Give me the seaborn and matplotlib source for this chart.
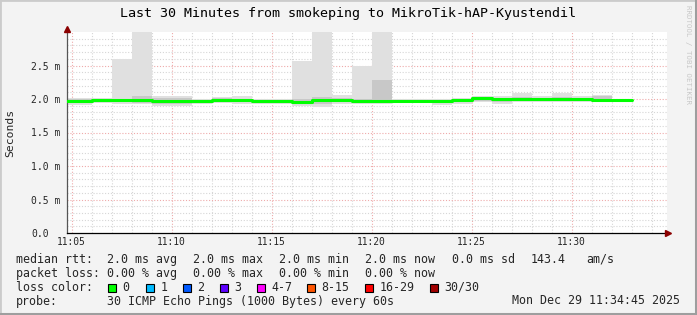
import matplotlib
matplotlib.use("Agg")
import matplotlib.pyplot as plt
from matplotlib.patches import Rectangle
from matplotlib.lines import Line2D
import seaborn as sns
import pandas as pd

# ---------------- data ----------------
times = ["11:04", "11:05", "11:06", "11:07", "11:08", "11:09", "11:10", "11:11",
         "11:12", "11:13", "11:14", "11:15", "11:16", "11:17", "11:18", "11:19",
         "11:20", "11:21", "11:22", "11:23", "11:24", "11:25", "11:26", "11:27",
         "11:28", "11:29", "11:30", "11:31", "11:32"]
end_time = "11:33"

median_ms = [1.970, 1.975, 1.990, 1.980, 1.980, 1.966, 1.966, 1.975, 1.985, 1.980,
             1.975, 1.966, 1.960, 1.980, 1.980, 1.970, 1.970, 1.975, 1.975, 1.970,
             1.985, 2.020, 2.005, 2.005, 2.005, 2.005, 2.005, 1.990, 1.990]
smoke_hi = [2.02, 2.02, 2.01, 2.59, 3.10, 2.05, 2.05, 2.00, 2.03, 2.05,
            2.00, 2.00, 2.56, 3.10, 2.06, 2.50, 3.10, 2.00, 2.00, 2.00,
            2.01, 2.04, 2.04, 2.09, 2.04, 2.09, 2.04, 2.06, 2.00]
smoke_lo = [1.91, 1.91, 1.94, 1.93, 1.92, 1.90, 1.90, 1.93, 1.94, 1.92,
            1.93, 1.92, 1.90, 1.88, 1.93, 1.93, 1.92, 1.94, 1.94, 1.91,
            1.93, 1.95, 1.93, 1.96, 1.95, 1.95, 1.95, 1.96, 1.97]
core_hi = [2.00, 2.00, 1.99, 2.00, 2.04, 2.02, 2.02, 1.99, 2.01, 2.00,
           1.99, 1.99, 2.00, 2.03, 2.02, 2.00, 2.28, 1.99, 1.99, 1.99,
           2.00, 2.02, 2.02, 2.03, 2.02, 2.03, 2.02, 2.04, 1.99]
core_lo = [1.94, 1.95, 1.96, 1.95, 1.94, 1.93, 1.93, 1.95, 1.96, 1.95,
           1.95, 1.94, 1.93, 1.92, 1.95, 1.95, 1.94, 1.96, 1.96, 1.94,
           1.95, 1.97, 1.96, 1.98, 1.97, 1.97, 1.97, 1.98, 1.98]

x_tick_labels = ["11:05", "11:10", "11:15", "11:20", "11:25", "11:30"]
y_tick_values = [0.0, 0.5, 1.0, 1.5, 2.0, 2.5]
y_tick_labels = ["0.0", "0.5 m", "1.0 m", "1.5 m", "2.0 m", "2.5 m"]

title = "Last 30 Minutes from smokeping to MikroTik-hAP-Kyustendil"
loss_labels = ["0", "1", "2", "3", "4-7", "8-15", "16-29", "30/30"]
loss_colors = ["#00ff00", "#00bbff", "#0059ff", "#5e00ff", "#ff00fe",
               "#ff5500", "#ff0000", "#a10000"]


def to_min(t):
    h, m = t.split(":")
    return (int(h) - 11) * 60 + int(m)


x_start = [to_min(t) for t in times]
x_edges = x_start + [to_min(end_time)]


def pad(v):
    return list(v) + [v[-1]]


df = pd.DataFrame({"minute": x_edges, "median": pad(median_ms)})

# ---------------- figure ----------------
W, H = 697, 315
sns.set_style("white")
plt.rcParams["font.family"] = ["DejaVu Sans Mono"]
fig = plt.figure(figsize=(W / 100, H / 100), dpi=100)
fig.patch.set_facecolor("#f3f3f3")


def px(x, y):
    return x / W, 1 - y / H


L, R, T, B = 67, 667, 32, 233
ax = fig.add_axes([L / W, 1 - B / H, (R - L) / W, (B - T) / H])
ax.set_facecolor("white")

x0 = to_min("11:05") - (71.7 - L) / 20.0
ax.set_xlim(x0, x0 + 30)
ax.set_ylim(0, 3.0)

# grid
dot = (0, (1, 1.6))
for m in range(5, 35):
    col = "#eeaaaa" if m % 5 == 0 else "#d6d6d6"
    ax.axvline(m, color=col, lw=0.8, ls=dot, zorder=0.5)
for i in range(1, 30):
    v = i / 10
    col = "#eeaaaa" if i % 5 == 0 else "#d6d6d6"
    ax.axhline(v, color=col, lw=0.8, ls=dot, zorder=0.5)

# smoke
ax.fill_between(x_edges, pad(smoke_lo), pad(smoke_hi), step="post",
                color="#e0e0e0", lw=0, zorder=1)
ax.fill_between(x_edges, pad(core_lo), pad(core_hi), step="post",
                color="#c8c8c8", lw=0, zorder=1.5)

# median line
sns.lineplot(data=df, x="minute", y="median", drawstyle="steps-post",
             color="#00ff00", linewidth=2.2, ax=ax, zorder=3)
ax.set_xlabel("")
ax.set_ylabel("")

# ticks
ax.set_xticks([to_min(t) for t in x_tick_labels])
ax.set_xticklabels(x_tick_labels, fontsize=6.9)
ax.tick_params(axis="x", length=0, pad=3.2)
ax.set_yticks(y_tick_values)
ax.set_yticklabels(y_tick_labels, fontsize=7.0, ha="left")
ax.tick_params(axis="y", length=2, width=0.8, color="#444444", pad=24.0)

for s in ["top", "right"]:
    ax.spines[s].set_visible(False)
ax.spines["left"].set_color("#555555")
ax.spines["left"].set_linewidth(0.9)
ax.spines["bottom"].set_color("#000000")
ax.spines["bottom"].set_linewidth(0.9)

# axis arrows
ax.add_line(Line2D([0, 0], [1.0, 1.02], transform=ax.transAxes, color="#555555",
                   lw=0.9, clip_on=False))
fig.add_artist(Line2D([px(67, 0)[0]], [px(0, 28.5)[1]], marker="^", markersize=5,
                      color="#8b0000", lw=0))
fig.add_artist(Line2D([px(668, 0)[0]], [px(0, 233)[1]], marker=">", markersize=5,
                      color="#8b0000", lw=0))

# title and labels
fig.text(*px(347.5, 14), title, ha="center", va="center", fontsize=9.6,
         color="#000000")
fig.text(*px(10, 133), "Seconds", ha="center", va="center", rotation=90,
         fontsize=8.2)
fig.text(*px(688, 5), "RRDTOOL / TOBI OETIKER", ha="center", va="top",
         rotation=270, fontsize=5.3, color="#c8c8c8")

# legend block
fs = 8.4
rows = [
    (259.3, [(16, "median rtt:"), (107.3, "2.0 ms avg"), (193.3, "2.0 ms max"),
             (279.3, "2.0 ms min"), (365, "2.0 ms now"), (451.7, "0.0 ms sd"),
             (530.7, "143.4"), (586, "am/s")]),
    (273.3, [(16, "packet loss:"), (107.3, "0.00 % avg"), (193.3, "0.00 % max"),
             (279.3, "0.00 % min"), (365, "0.00 % now")]),
    (287.3, [(16, "loss color:")]),
    (301.0, [(16, "probe:"), (107.3, "30 ICMP Echo Pings (1000 Bytes) every 60s")]),
]
for y, items in rows:
    for x, s in items:
        fig.text(*px(x, y), s, ha="left", va="center", fontsize=fs)
fig.text(*px(680, 301), "Mon Dec 29 11:34:45 2025", ha="right", va="center",
         fontsize=fs)

sq_x = [108, 146, 183, 220, 257, 307, 365, 430]
for sx, lab, col in zip(sq_x, loss_labels, loss_colors):
    fig.patches.append(Rectangle(px(sx, 291.5), 8 / W, 8 / H,
                                 transform=fig.transFigure, facecolor=col,
                                 edgecolor="#000000", lw=0.8))
    fig.text(*px(sx + 14.5, 287.3), lab, ha="left", va="center", fontsize=fs)

# image border
fig.patches.append(Rectangle((0, 0), 1, 1, transform=fig.transFigure,
                             fill=False, edgecolor="#cbcbcb", lw=2.0))
fig.add_artist(Line2D([px(695.5, 0)[0]] * 2, [0, 1], color="#9e9e9e", lw=2.2))
fig.add_artist(Line2D([0, 1], [px(0, 313.5)[1]] * 2, color="#9e9e9e", lw=2.2))

fig.savefig("out.png", dpi=100, facecolor=fig.get_facecolor())
